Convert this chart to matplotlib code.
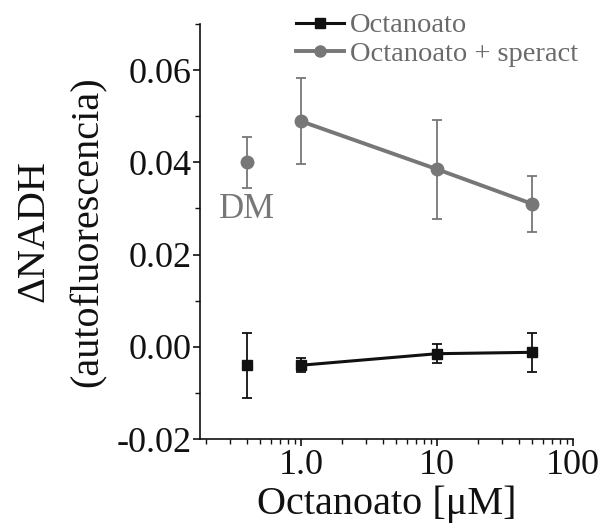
import matplotlib
matplotlib.use("Agg")
import matplotlib.pyplot as plt
from matplotlib.ticker import FixedLocator, NullFormatter, MultipleLocator, FuncFormatter
from matplotlib.lines import Line2D

plt.rcParams['font.family'] = ['Liberation Serif', 'DejaVu Serif']
plt.rcParams['mathtext.fontset'] = 'stix'

# DM baseline (plotted apart at 0.4) and octanoate concentrations (µM)
dm_x = 0.4
conc = [1.0, 10, 50]

# Octanoato alone
oct_dm, oct_dm_err = -0.004, 0.007
oct_mean = [-0.004, -0.0015, -0.0012]
oct_err = [0.0015, 0.002, 0.0042]

# Octanoato + speract
sp_dm, sp_dm_err = 0.040, 0.0055
sp_mean = [0.0489, 0.0385, 0.031]
sp_err = [0.0093, 0.0107, 0.006]

y_ticks = [-0.02, 0.00, 0.02, 0.04, 0.06]
x_ticks = [1.0, 10, 100]
x_tick_labels = ["1.0", "10", "100"]

black = "#111111"
grey = "#777777"

fig = plt.figure(figsize=(6.07, 5.25), dpi=100)
ax = fig.add_axes([200/607, 1 - 439/525, 373/607, 415/525])

ax.set_xscale("log")
ax.set_xlim(0.18, 100)
ax.set_ylim(-0.02, 0.07)

# speract series
ax.plot(conc, sp_mean, color=grey, lw=2.8, zorder=2)
ax.errorbar(conc + [dm_x], sp_mean + [sp_dm], yerr=sp_err + [sp_dm_err],
            fmt='o', color=grey, ms=9, ecolor=grey, elinewidth=1.3,
            capsize=3.5, capthick=1.3, zorder=3)

# octanoate series
ax.plot(conc, oct_mean, color=black, lw=2.2, zorder=2)
ax.errorbar(conc + [dm_x], oct_mean + [oct_dm], yerr=oct_err + [oct_dm_err],
            fmt='s', color=black, ms=7.5, ecolor=black, elinewidth=1.3,
            capsize=3.5, capthick=1.3, zorder=3)

ax.text(dm_x, 0.0297, "DM", color=grey, fontsize=25, ha='center', va='center')

for s in ["top", "right"]:
    ax.spines[s].set_visible(False)
for s in ["left", "bottom"]:
    ax.spines[s].set_linewidth(1.2)
    ax.spines[s].set_color(black)

ax.yaxis.set_major_locator(FixedLocator(y_ticks))
ax.yaxis.set_minor_locator(MultipleLocator(0.01))
ax.yaxis.set_major_formatter(FuncFormatter(lambda v, p: f"{v:.2f}".replace("-0.00", "0.00")))
ax.xaxis.set_major_locator(FixedLocator(x_ticks))
ax.set_xticklabels(x_tick_labels)
ax.xaxis.set_minor_locator(FixedLocator([m * d for d in (0.1, 1, 10) for m in range(2, 10)]))
ax.xaxis.set_minor_formatter(NullFormatter())

ax.tick_params(axis='both', which='major', direction='out', length=5, width=1.2,
               labelsize=26, colors=black, pad=1)
ax.tick_params(axis='both', which='minor', direction='out', length=3.5, width=1.0, colors=black)
ax.tick_params(axis='x', which='major', pad=2)

ax.set_xlabel("Octanoato [μM]", fontsize=29, labelpad=3, color=black)
ax.set_ylabel("ΔNADH\n(autofluorescencia)", fontsize=29, labelpad=7, color=black,
              linespacing=1.6)

handles = [
    Line2D([], [], color=black, lw=2.2, marker='s', ms=7),
    Line2D([], [], color=grey, lw=2.8, marker='o', ms=8),
]
leg = ax.legend(handles, ["Octanoato", "Octanoato + speract"], loc='upper left',
                bbox_to_anchor=(0.227, 1.055), frameon=False, fontsize=20.5,
                handlelength=1.7, handletextpad=0.2, labelspacing=0.1,
                borderaxespad=0, labelcolor="#6a6a6a")

fig.savefig("out.png", dpi=100)
